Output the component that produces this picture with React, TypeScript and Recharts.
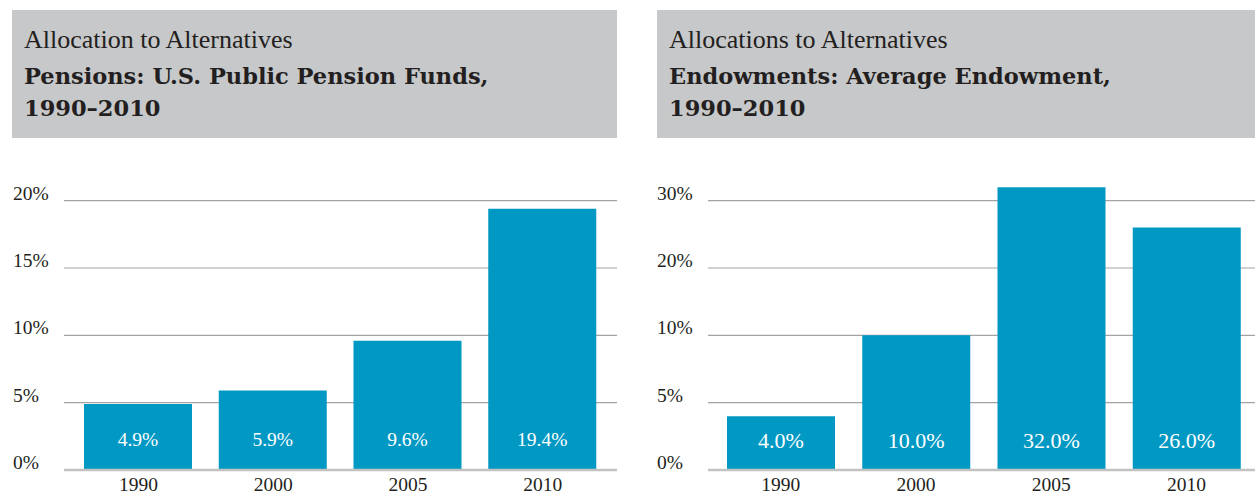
import React from 'react';
import { BarChart, Bar, XAxis, YAxis, CartesianGrid, LabelList } from 'recharts';

const years = ['1990', '2000', '2005', '2010'];
const pensionValues = [4.9, 5.9, 9.6, 19.4];
const endowmentValues = [4.0, 10.0, 32.0, 26.0];
const pensionTicks = [0, 5, 10, 15, 20];
const endowmentTicks = [0, 5, 10, 20, 30];

const BAR = '#0198c3';
const HEADER_BG = '#c7c8ca';
const TEXT = '#231f20';
const SERIF = '"Liberation Serif", "Times New Roman", serif';
const BOLD_SERIF = '"DejaVu Serif", serif';

// piecewise position along the (unevenly labelled) axis: one unit per tick interval
function toUnits(v: number, ticks: number[]): number {
  const n = ticks.length;
  for (let i = 0; i < n - 1; i++) {
    if (v <= ticks[i + 1]) return i + (v - ticks[i]) / (ticks[i + 1] - ticks[i]);
  }
  return n - 1 + (v - ticks[n - 1]) / (ticks[n - 1] - ticks[n - 2]);
}

function buildData(values: number[], ticks: number[]) {
  return years.map((y, i) => ({ year: y, value: values[i], pos: toUnits(values[i], ticks) }));
}

const pensionData = buildData(pensionValues, pensionTicks);
const endowmentData = buildData(endowmentValues, endowmentTicks);
const tickUnits = [0, 1, 2, 3, 4];

type PanelProps = {
  left: number;
  width: number;
  headerLeft: number;
  headerWidth: number;
  line1: string;
  line2: string;
  line3: string;
  data: { year: string; value: number; pos: number }[];
  ticks: number[];
  yLabelX: number;
  yAxisWidth: number;
  padLeft: number;
  padRight: number;
  labelSize: number;
  labelOffset: number;
};

function Panel(p: PanelProps) {
  const YTick = (props: any) => {
    const { y, payload } = props;
    return (
      <text x={p.yLabelX} y={y - 1} textAnchor="start" fontFamily={SERIF} fontSize={19.5} fill={TEXT}>
        {p.ticks[payload.value]}%
      </text>
    );
  };
  const XTick = (props: any) => {
    const { x, payload } = props;
    return (
      <text x={x} y={491} textAnchor="middle" fontFamily={SERIF} fontSize={19.5} fill={TEXT}>
        {payload.value}
      </text>
    );
  };
  const BarLabel = (props: any) => {
    const { x, y, width, height, value } = props;
    return (
      <text
        x={x + width / 2}
        y={y + height - p.labelOffset}
        textAnchor="middle"
        fontFamily={SERIF}
        fontSize={p.labelSize}
        fill="#ffffff"
      >
        {Number(value).toFixed(1)}%
      </text>
    );
  };
  return (
    <>
      <div
        style={{
          position: 'absolute',
          left: p.headerLeft,
          top: 10,
          width: p.headerWidth,
          height: 128,
          background: HEADER_BG,
        }}
      >
        <div style={{ position: 'absolute', left: 12, top: 15, fontFamily: SERIF, fontSize: 26, color: TEXT, whiteSpace: 'nowrap', lineHeight: '30px' }}>
          {p.line1}
        </div>
        <div style={{ position: 'absolute', left: 12, top: 50, fontFamily: BOLD_SERIF, fontWeight: 'bold', fontSize: 22.5, color: TEXT, whiteSpace: 'nowrap', lineHeight: '32px' }}>
          {p.line2}
          <br />
          {p.line3}
        </div>
      </div>
      <div style={{ position: 'absolute', left: p.left, top: 0 }}>
        <BarChart
          width={p.width}
          height={494}
          data={p.data}
          margin={{ top: 167, right: 0, bottom: 0, left: 0 }}
        >
          <CartesianGrid
            horizontal
            vertical={false}
            horizontalValues={tickUnits}
            stroke="#a3a3a3"
            strokeWidth={1.2}
          />
          <XAxis
            dataKey="year"
            height={24}
            tickLine={false}
            axisLine={{ stroke: '#c2c2c2', strokeWidth: 2.5 }}
            tick={<XTick />}
            padding={{ left: p.padLeft, right: p.padRight }}
            interval={0}
          />
          <YAxis
            type="number"
            domain={[0, 4.5]}
            ticks={tickUnits}
            width={p.yAxisWidth}
            axisLine={false}
            tickLine={false}
            tick={<YTick />}
            allowDataOverflow
          />
          <Bar dataKey="pos" fill={BAR} barSize={108} isAnimationActive={false}>
            <LabelList dataKey="value" content={<BarLabel />} />
          </Bar>
        </BarChart>
      </div>
    </>
  );
}

export default function App() {
  return (
    <div style={{ position: 'absolute', left: 0, top: 0, width: 1255, height: 494, background: '#ffffff', overflow: 'hidden' }}>
      <Panel
        left={0}
        width={617}
        headerLeft={12}
        headerWidth={605}
        line1="Allocation to Alternatives"
        line2="Pensions: U.S. Public Pension Funds,"
        line3="1990–2010"
        data={pensionData}
        ticks={pensionTicks}
        yLabelX={13}
        yAxisWidth={64}
        padLeft={7}
        padRight={7}
        labelSize={19.5}
        labelOffset={24}
      />
      <Panel
        left={640}
        width={615}
        headerLeft={657}
        headerWidth={598}
        line1="Allocations to Alternatives"
        line2="Endowments: Average Endowment,"
        line3="1990–2010"
        data={endowmentData}
        ticks={endowmentTicks}
        yLabelX={17}
        yAxisWidth={68}
        padLeft={5}
        padRight={1}
        labelSize={22}
        labelOffset={22}
      />
    </div>
  );
}
